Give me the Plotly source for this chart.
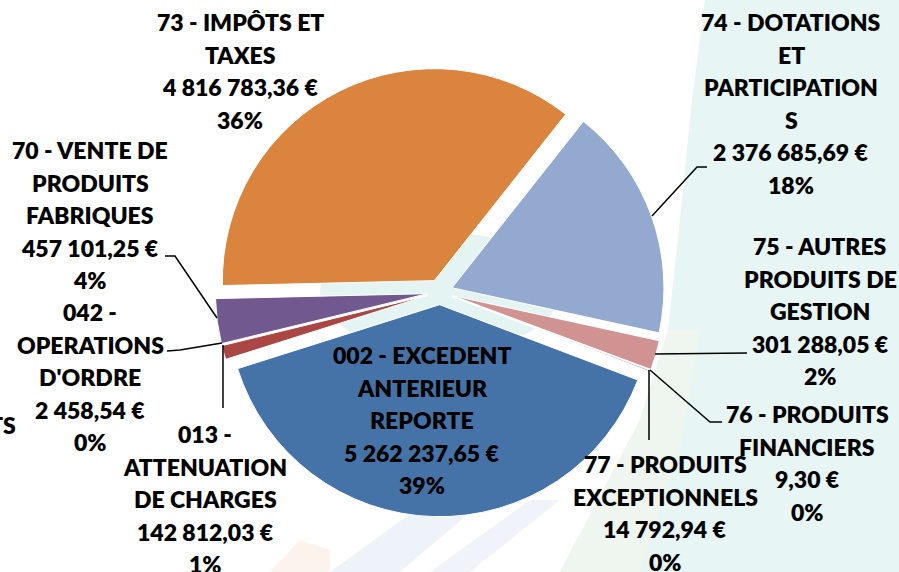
import plotly.graph_objects as go
import math

W, H = 899, 572

categories = [
    "002 - EXCEDENT ANTERIEUR REPORTE",
    "013 - ATTENUATION DE CHARGES",
    "042 - OPERATIONS D'ORDRE",
    "70 - VENTE DE PRODUITS FABRIQUES",
    "73 - IMPÔTS ET TAXES",
    "74 - DOTATIONS ET PARTICIPATIONS",
    "75 - AUTRES PRODUITS DE GESTION",
    "76 - PRODUITS FINANCIERS",
    "77 - PRODUITS EXCEPTIONNELS",
]
values = [5262237.65, 142812.03, 2458.54, 457101.25, 4816783.36,
          2376685.69, 301288.05, 9.30, 14792.94]
# label text lines as wrapped in the original chart
label_names = [
    ["002 - EXCEDENT", "ANTERIEUR", "REPORTE"],
    ["013 -", "ATTENUATION", "DE CHARGES"],
    ["042 -", "OPERATIONS", "D'ORDRE"],
    ["70 - VENTE DE", "PRODUITS", "FABRIQUES"],
    ["73 - IMPÔTS ET", "TAXES"],
    ["74 - DOTATIONS", "ET", "PARTICIPATION", "S"],
    ["75 - AUTRES", "PRODUITS DE", "GESTION"],
    ["76 - PRODUITS", "FINANCIERS"],
    ["77 - PRODUITS", "EXCEPTIONNELS"],
]
colors = ["#4572A7", "#AA4643", "#89A54E", "#71588F", "#DB843D",
          "#93A9CF", "#D19392", "#B9CD96", "#A99BBD"]

# label positions (pixels): centre x, first-line y
label_pos = [(422, 355), (205, 434), (90, 312), (90, 150), (240, 22),
             (791, 22), (820, 246), (807, 414), (665, 464)]
LINE = 32.6
leaders = [
    None,
    [(223, 345), (223, 408)],
    [(167, 351), (180, 350), (222, 343)],
    [(165, 256), (175, 256), (217, 318)],
    None,
    [(707, 167), (697, 167), (652, 216)],
    [(655, 354), (747, 353)],
    [(650, 370), (710, 422), (722, 422)],
    [(649, 370), (649, 440)],
]


def fr_money(v):
    s = f"{v:,.2f}"
    ent, dec = s.split(".")
    return ent.replace(",", " ") + "," + dec + " €"


def excel_percents(vals):
    tot = sum(vals)
    raw = [v / tot * 100 for v in vals]
    fl = [math.floor(r) for r in raw]
    rem = 100 - sum(fl)
    order = sorted(range(len(vals)), key=lambda i: raw[i] - fl[i], reverse=True)
    for i in order[:rem]:
        fl[i] += 1
    return fl


pcts = excel_percents(values)


def px(x, y):
    return x / W, 1 - y / H


def ppath(pts, close=False):
    p = "M " + " L ".join("%f %f" % px(x, y) for x, y in pts)
    return p + (" Z" if close else "")


fig = go.Figure()

fig.add_trace(go.Pie(
    labels=categories,
    values=values,
    sort=False,
    direction="clockwise",
    rotation=110.8,
    pull=[0.06] * len(values),
    marker=dict(colors=colors, line=dict(color="white", width=1)),
    textinfo="none",
    hoverinfo="label+value+percent",
    showlegend=False,
    domain=dict(x=[0.2395, 0.7394], y=[0.0967, 0.8823]),
))

# faint background watermark
shapes = []
bg = [
    ([(705, 0), (899, 0), (899, 572), (560, 572), (640, 420), (668, 330),
      (682, 200), (692, 100)], "#e7f5f5"),
    ([(560, 572), (640, 420), (668, 330), (700, 330), (680, 450), (640, 572)],
     "#eef6ef"),
    ([(330, 572), (400, 572), (520, 470), (470, 470)], "#eef3fa"),
    ([(430, 572), (470, 572), (560, 500), (530, 500)], "#f0f3fa"),
    ([(270, 572), (330, 572), (330, 550), (300, 540)], "#fcf3ec"),
]
for pts, col in bg:
    shapes.append(dict(type="path", xref="paper", yref="paper", layer="below",
                       path=ppath(pts, True), fillcolor=col,
                       line=dict(width=0)))
cx, cy = px(440, 292)
shapes.append(dict(type="circle", xref="paper", yref="paper", layer="below",
                   x0=cx - 120 / W, x1=cx + 120 / W, y0=cy - 60 / H,
                   y1=cy + 60 / H, fillcolor="#e4f4f3", line=dict(width=0)))

for pts in leaders:
    if pts:
        shapes.append(dict(type="path", xref="paper", yref="paper",
                           path=ppath(pts), line=dict(color="black", width=1.5)))

FONT = dict(family="Lato", size=23, color="black", weight=800)
annotations = []
for name, v, pc, (lx, ly) in zip(label_names, values, pcts, label_pos):
    lines = name + [fr_money(v), "%d%%" % pc]
    for i, t in enumerate(lines):
        x, y = px(lx, ly + i * LINE)
        annotations.append(dict(x=x, y=y, xref="paper", yref="paper", text=t,
                                showarrow=False, xanchor="center",
                                yanchor="middle", font=FONT))
# truncated label at the left edge of the original picture
x, y = px(18, 425)
annotations.append(dict(x=x, y=y, xref="paper", yref="paper", text="TS",
                        showarrow=False, xanchor="right", yanchor="middle",
                        font=FONT))

fig.update_layout(
    width=W, height=H,
    margin=dict(l=0, r=0, t=0, b=0),
    paper_bgcolor="white",
    plot_bgcolor="white",
    shapes=shapes,
    annotations=annotations,
)

fig.write_html(
    "out.html",
    config={"displayModeBar": False},
    post_script="document.body.style.margin='0';"
                "document.body.style.overflow='hidden';",
)
